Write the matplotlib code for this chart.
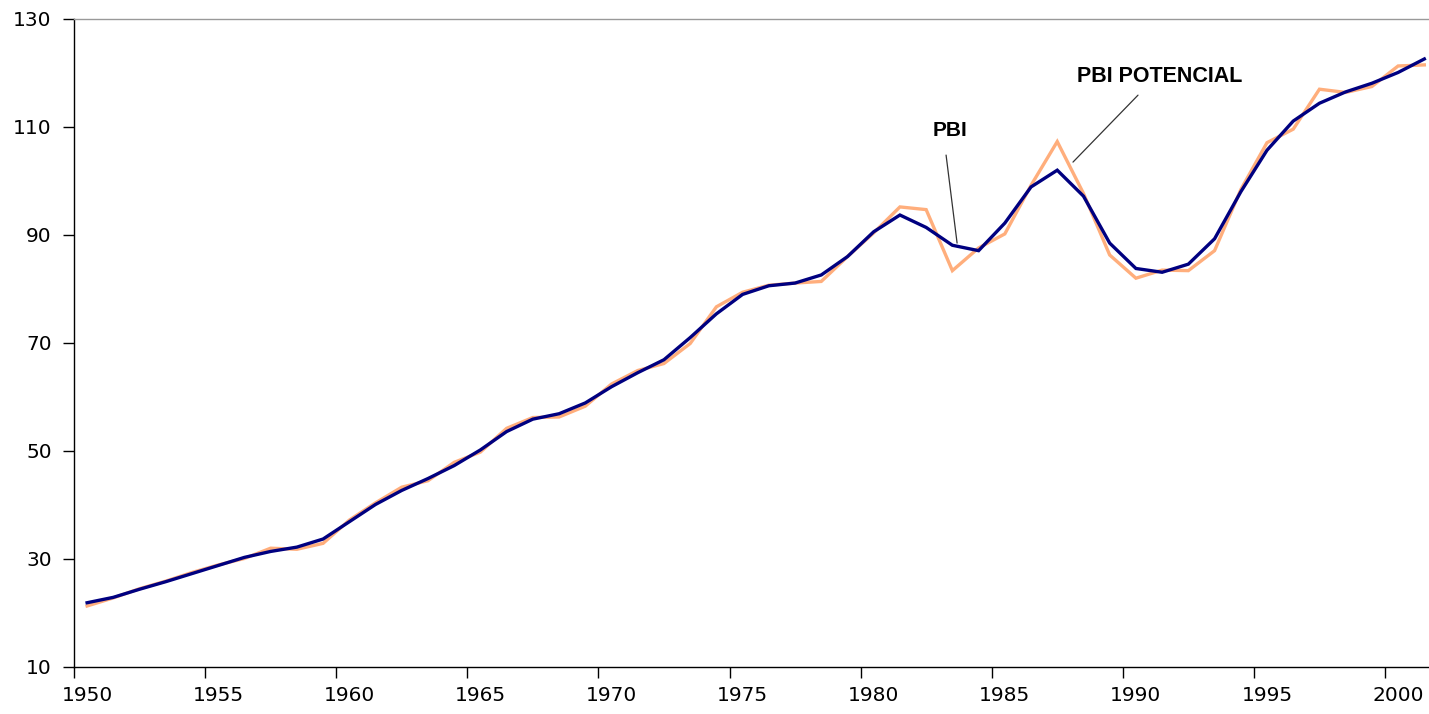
import matplotlib
matplotlib.use("Agg")
import matplotlib.pyplot as plt

years = list(range(1950, 2002))
pbi_potencial = [21.9, 22.9, 24.4, 25.8, 27.3, 28.8, 30.3, 31.4, 32.2, 33.7,
                 36.9, 40.1, 42.7, 44.9, 47.3, 50.2, 53.6, 55.9, 56.9, 58.9,
                 61.9, 64.5, 66.9, 71.0, 75.4, 79.0, 80.6, 81.1, 82.6, 86.0,
                 90.6, 93.7, 91.4, 88.1, 87.1, 92.2, 98.9, 102.0, 97.2, 88.5,
                 83.8, 83.1, 84.6, 89.3, 98.0, 105.7, 111.1, 114.4, 116.5, 118.1,
                 120.1, 122.6]
pbi = [21.3, 22.8, 24.5, 25.9, 27.5, 28.9, 30.1, 32.0, 31.8, 32.9,
       37.2, 40.4, 43.3, 44.5, 47.9, 49.8, 54.2, 56.2, 56.3, 58.3,
       62.4, 64.9, 66.2, 69.9, 76.7, 79.4, 80.7, 81.1, 81.4, 86.0,
       90.4, 95.2, 94.7, 83.4, 87.6, 90.2, 99.2, 107.3, 97.7, 86.3,
       82.0, 83.5, 83.4, 87.1, 98.4, 107.1, 109.6, 117.0, 116.4, 117.5,
       121.3, 121.5]
xtick_years = list(range(1950, 2001, 5))
yticks = [10, 30, 50, 70, 90, 110, 130]

plt.rcParams['font.family'] = ['Liberation Sans', 'DejaVu Sans']

fig = plt.figure(figsize=(14.29, 7.14), dpi=100)
ax = fig.add_axes([74/1429, 1 - 667/714, 1 - 74/1429, (667 - 19)/714])

# category axis: points centred in each year slot
x = [y + 0.5 for y in years]
ax.plot(x, pbi, color='#FFAE7C', lw=2.4, solid_joinstyle='miter', zorder=2)
ax.plot(x, pbi_potencial, color='#000080', lw=2.4, solid_joinstyle='miter', zorder=3)

ax.set_xlim(1950, 1950 + (1429 - 74) / 26.22)
ax.set_ylim(10, 130)

# tick marks on slot boundaries, labels centred on slots
ax.set_xticks(xtick_years)
ax.set_xticklabels([])
ax.set_xticks([y + 0.5 for y in xtick_years], minor=True)
ax.set_xticklabels([str(y) for y in xtick_years], minor=True,
                   fontfamily='DejaVu Sans', fontsize=14.5)
ax.tick_params(axis='x', which='major', direction='out', length=8, width=1)
ax.tick_params(axis='x', which='minor', length=0, pad=14)

ax.set_yticks(yticks)
ax.set_yticklabels([str(v) for v in yticks], fontfamily='DejaVu Sans', fontsize=14.5)
ax.tick_params(axis='y', direction='out', length=8, width=1, pad=8)

ax.spines['right'].set_visible(False)
ax.spines['top'].set_color('#999999')
ax.spines['top'].set_linewidth(1)
ax.spines['left'].set_linewidth(1)
ax.spines['bottom'].set_linewidth(1)

# leader lines
ax.annotate('', xy=(1983.68, 88.5), xytext=(1983.26, 104.8),
            arrowprops=dict(arrowstyle='-', color='#333333', lw=0.9,
                            shrinkA=0, shrinkB=0))
ax.annotate('', xy=(1988.1, 103.5), xytext=(1990.58, 115.9),
            arrowprops=dict(arrowstyle='-', color='#333333', lw=0.9,
                            shrinkA=0, shrinkB=0))
ax.text(1983.4, 109.4, 'PBI', fontsize=15, fontweight='bold',
        ha='center', va='center')
ax.text(1991.4, 119.3, 'PBI POTENCIAL', fontsize=15.5, fontweight='bold',
        ha='center', va='center')

fig.savefig('out.png', dpi=100)
